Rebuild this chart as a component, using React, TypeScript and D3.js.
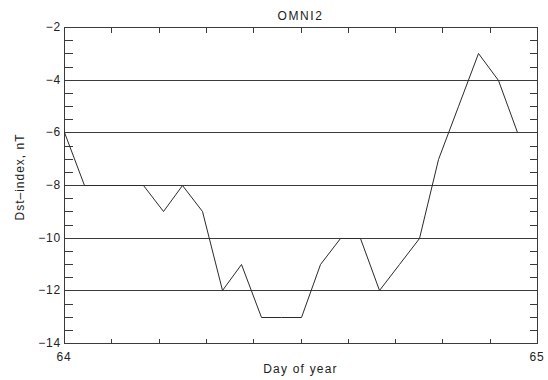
import React from "react";
import * as d3 from "d3";

// Hourly Dst index for day 64
const hours = [0, 1, 2, 3, 4, 5, 6, 7, 8, 9, 10, 11, 12, 13, 14, 15, 16, 17, 18, 19, 20, 21, 22, 23];
const dst = [-6, -8, -8, -8, -8, -9, -8, -9, -12, -11, -13, -13, -13, -11, -10, -10, -12, -11, -10, -7, -5, -3, -4, -6];
const yMajorTicks = [-2, -4, -6, -8, -10, -12, -14];
const yGridValues = [-4, -6, -8, -10, -12];
const xMajorTicks = [64, 65];
const title = "OMNI2";
const xTitle = "Day of year";
const yTitle = "Dst\u2013index, nT";

const W = 548;
const H = 380;
const M = { left: 64, right: 11, top: 27, bottom: 37 };

export default function App() {
  const x = d3.scaleLinear().domain([64, 65]).rangeRound([M.left, W - M.right]);
  const y = d3.scaleLinear().domain([-14, -2]).rangeRound([H - M.bottom, M.top]);
  const line = d3
    .line<number>()
    .x((_, i) => x(64 + hours[i] / 24))
    .y((d) => y(d));

  const x0 = x.range()[0];
  const x1 = x.range()[1];
  const yTop = y.range()[1];
  const yBot = y.range()[0];
  const xMinor = d3.range(1, 10).map((k) => 64 + k / 10);
  const yMinor = d3.range(-14, -2, 0.5).filter((v) => !Number.isInteger(v / 2));
  const stroke = "#3a3a3a";
  const font = "'Liberation Sans', Arial, sans-serif";

  return (
    <svg
      width={W}
      height={H}
      style={{ position: "absolute", left: 0, top: 0, background: "#fff" }}
      fontFamily={font}
    >
      <g transform="translate(0.5,0.5)">
        <g shapeRendering="crispEdges" stroke={stroke} strokeWidth={1}>
          {yGridValues.map((v) => (
            <line key={"g" + v} x1={x0} x2={x1} y1={y(v)} y2={y(v)} />
          ))}
          {yMinor.map((v) => (
            <g key={"ym" + v}>
              <line x1={x0} x2={x0 + 8} y1={y(v)} y2={y(v)} />
              <line x1={x1 - 8} x2={x1} y1={y(v)} y2={y(v)} />
            </g>
          ))}
          {xMinor.map((v) => (
            <g key={"xm" + v}>
              <line x1={x(v)} x2={x(v)} y1={yBot} y2={yBot - 5} />
              <line x1={x(v)} x2={x(v)} y1={yTop} y2={yTop + 5} />
            </g>
          ))}
          <rect x={x0} y={yTop} width={x1 - x0} height={yBot - yTop} fill="none" />
        </g>
        <path d={line(dst) ?? ""} fill="none" stroke="#2a2a2a" strokeWidth={1} />
      </g>

      <g fill="#222" fontSize={12} letterSpacing={0.8}>
        {yMajorTicks.map((v) => (
          <text key={"yl" + v} x={x0 - 3} y={y(v) + 4} textAnchor="end">
            {"\u2212" + Math.abs(v)}
          </text>
        ))}
        {xMajorTicks.map((v) => (
          <text key={"xl" + v} x={x(v)} y={yBot + 18} textAnchor="middle">
            {v}
          </text>
        ))}
        <text x={(x0 + x1) / 2} y={20} textAnchor="middle" letterSpacing={1.6}>
          {title}
        </text>
        <text x={(x0 + x1) / 2} y={373} textAnchor="middle" letterSpacing={1.2}>
          {xTitle}
        </text>
        <text
          transform={`translate(24, 177) rotate(-90)`}
          textAnchor="middle"
          letterSpacing={1}
        >
          {yTitle}
        </text>
      </g>
    </svg>
  );
}
